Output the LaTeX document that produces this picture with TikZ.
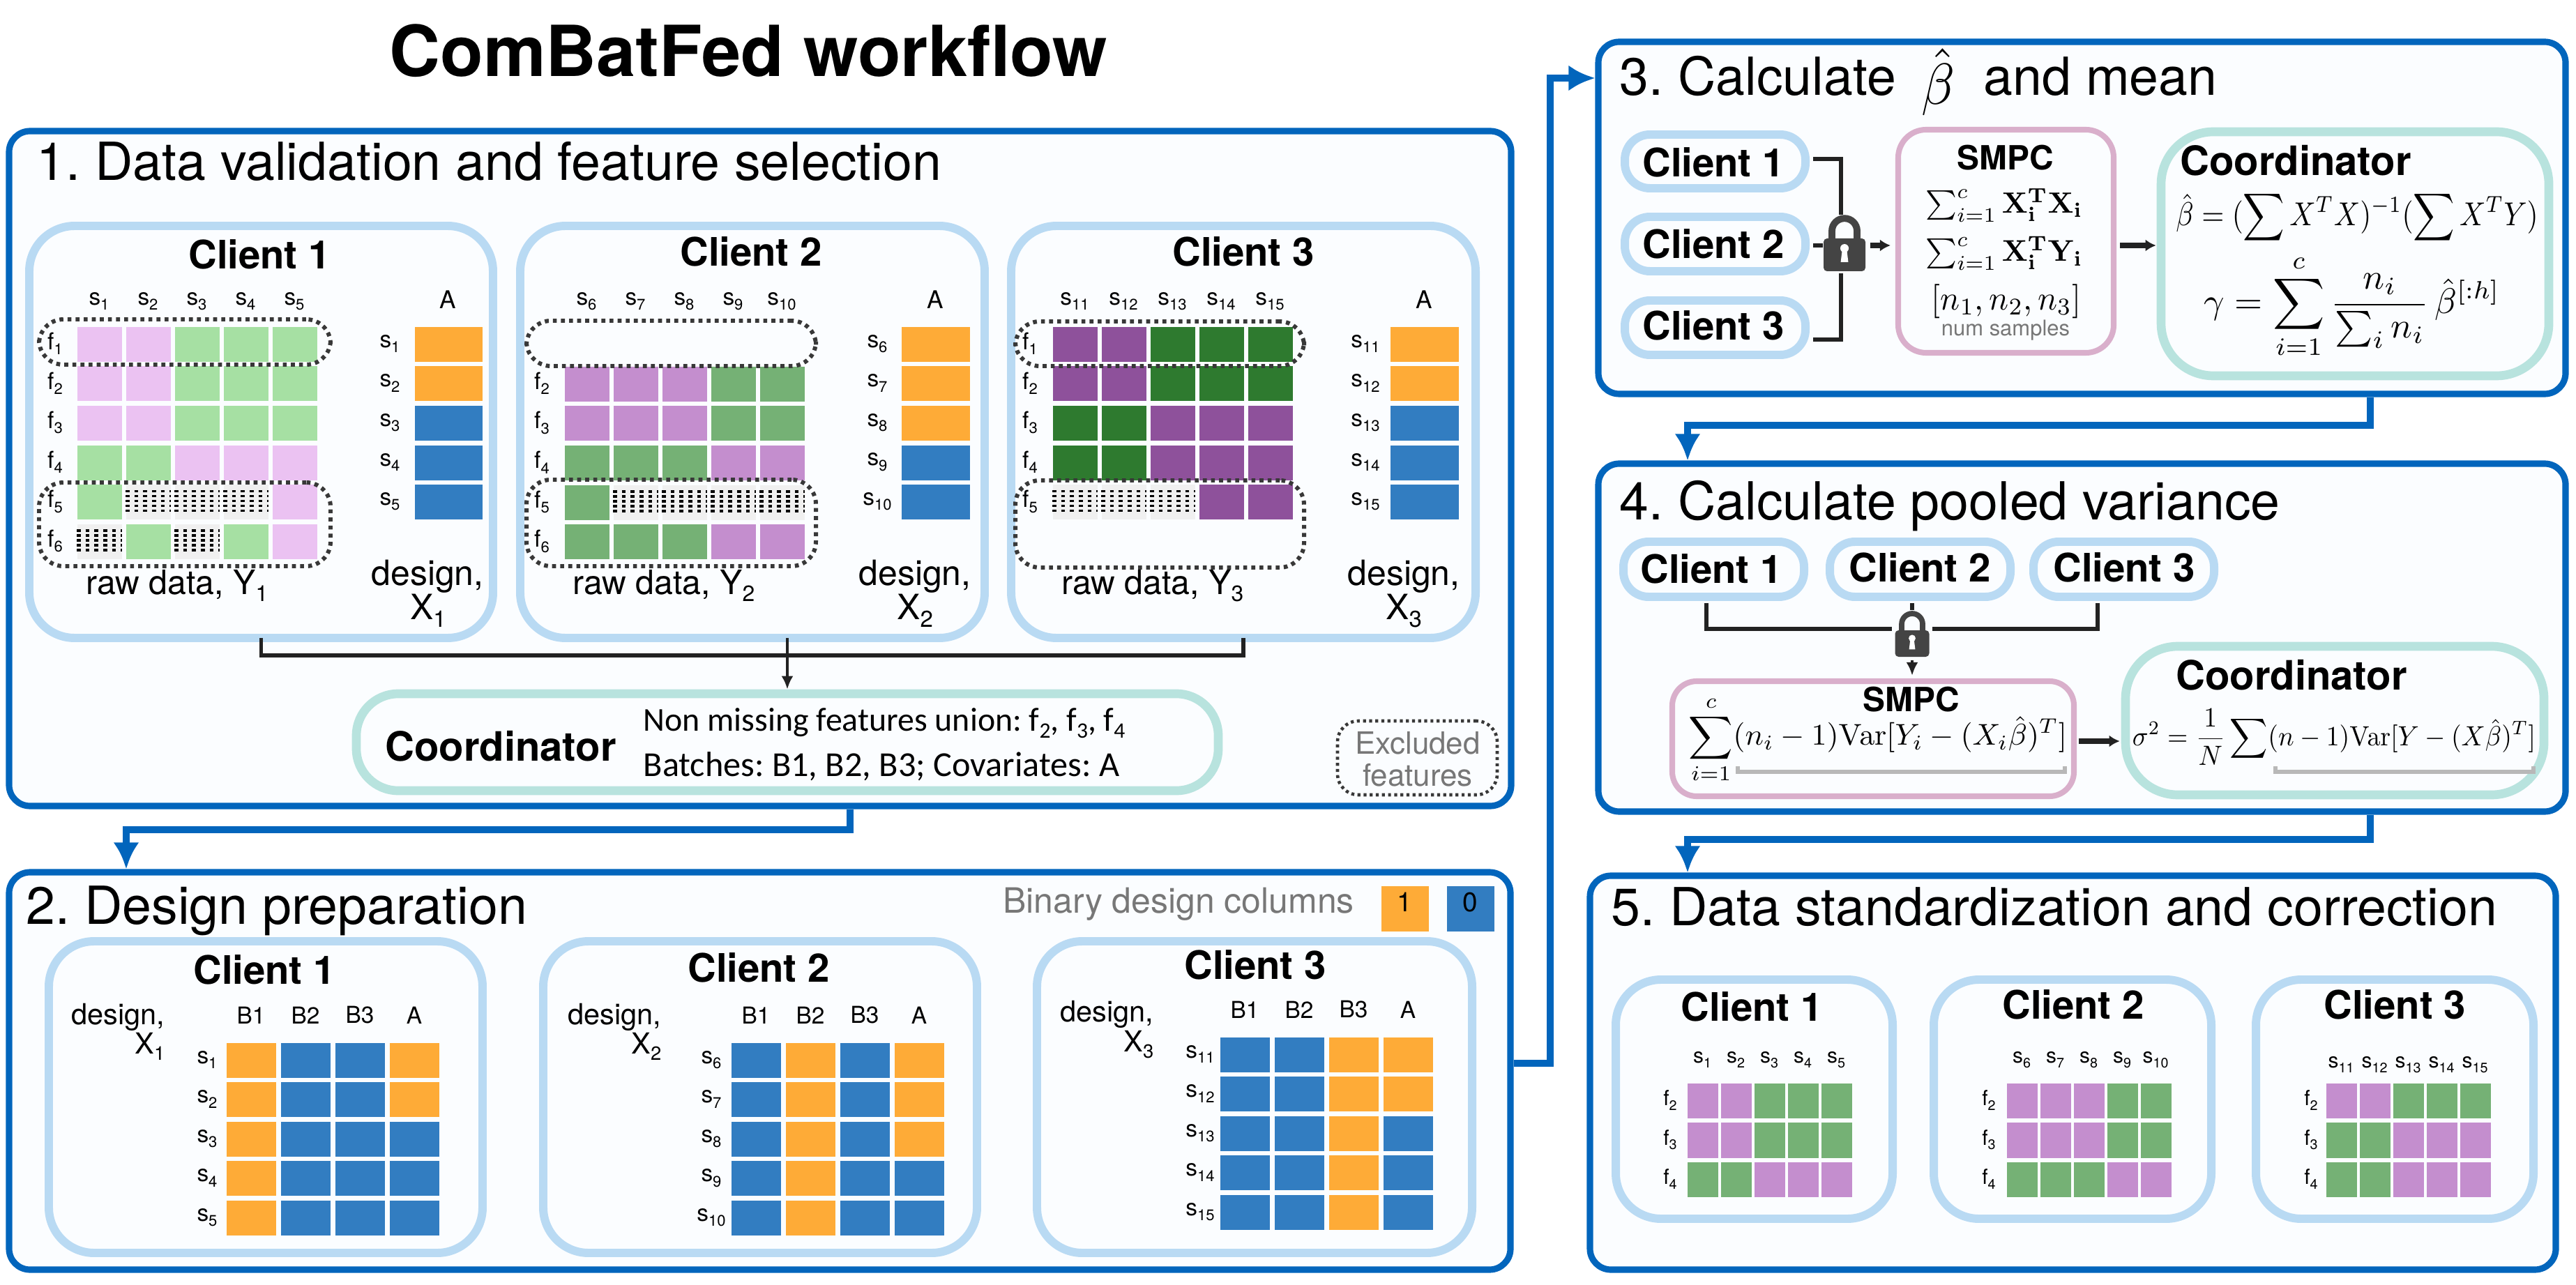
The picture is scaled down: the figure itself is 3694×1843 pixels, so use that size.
\documentclass[tikz,border=0pt]{standalone}
\usepackage[no-math]{fontspec}
\usepackage{amsmath}
\setmainfont{TeX Gyre Heros}
\newfontfamily\calfont{Carlito}
\usetikzlibrary{arrows.meta,fit}
\frenchspacing

\definecolor{flowblue}{HTML}{0265BC}
\definecolor{clientblue}{HTML}{B9DAF3}
\definecolor{coordgreen}{HTML}{B8E3DE}
\definecolor{smpcpink}{HTML}{D9AFCB}
\definecolor{paper}{HTML}{FBFDFF}
\definecolor{ink}{HTML}{222222}
\definecolor{greytext}{HTML}{777777}
\definecolor{lockgrey}{HTML}{444444}
\definecolor{lp}{HTML}{EBC2F2}
\definecolor{lg}{HTML}{A6E0A3}
\definecolor{mp}{HTML}{C48ECE}
\definecolor{mg}{HTML}{75B175}
\definecolor{dp}{HTML}{8E519B}
\definecolor{dg}{HTML}{2E7A2F}
\definecolor{og}{HTML}{FEAB37}
\definecolor{bl}{HTML}{327DC1}
\definecolor{nn}{HTML}{F0F0F0}

\newcommand{\fs}[1]{\fontsize{#1}{#1}\selectfont}
\newcommand{\low}[1]{\raisebox{-0.22em}{\scalebox{0.66}{#1}}}
\newcommand{\mfit}[3]{\resizebox*{#1}{#2}{$\displaystyle #3$}}
\newcommand{\cellgrid}[8]{%
	\foreach \row [count=\r] in {#8} {
		\foreach \col [count=\c] in \row {
			\node[cell,fill=\col,minimum width=#6*0.01cm,minimum height=#7*0.01cm] (#1-\r-\c) at ({#2+(\c-1)*#4},{#3+(\r-1)*#5}) {};
		}
	}
}
\newcommand{\toplabels}[7]{%
	\foreach \i [count=\n] in {#6,...,#7} {
		\node[tick] (#1\n) at ({#2+(\n-1)*#3},#4) {#5\low{\i}};
	}
}
\newcommand{\sidelabels}[7]{%
	\foreach \i [count=\n] in {#6,...,#7} {
		\node[tick] (#1\n) at (#2,{#3+(\n-1)*#4}) {#5\low{\i}};
	}
}
\newcommand{\nodots}[1]{%
	\foreach \cellname in {#1} {
		\foreach \k in {10,17,24,31,38} {
			\draw[dotrow] ([yshift=-\k*0.01cm]\cellname.north west) -- ([yshift=-\k*0.01cm]\cellname.north east);
		}
	}
}
\newcommand{\padlock}[7]{%
	\node[lockbody,fit={({#2-#4/2},#3) ({#2+#4/2},{#3+#5})}] (#1) {};
	\draw[draw=lockgrey,line width=#7] ({#2-#6},#3) -- ({#2-#6},{#3-#6*0.6}) arc[start angle=180,end angle=0,radius=#6*0.01cm] -- ({#2+#6},#3);
	\fill[white] (#2,{#3+#5*0.3}) circle[radius=#4*0.001cm];
	\fill[white] ({#2-#4*0.05},{#3+#5*0.3}) -- ({#2+#4*0.05},{#3+#5*0.3}) -- ({#2+#4*0.09},{#3+#5*0.72}) -- ({#2-#4*0.09},{#3+#5*0.72}) -- cycle;
}

\tikzset{
	panelbox/.style={draw=flowblue,line width=2.6pt,fill=paper,rounded corners=.3cm,inner sep=0pt},
	clientbox/.style={draw=clientblue,line width=3.4pt,fill=paper,rounded corners=.65cm,inner sep=0pt},
	pillbox/.style={draw=clientblue,line width=3.4pt,fill=paper,rounded corners=.36cm,inner sep=0pt},
	smpcbox/.style={draw=smpcpink,line width=2.3pt,fill=paper,rounded corners=.4cm,inner sep=0pt},
	coordbox/.style={draw=coordgreen,line width=3.6pt,fill=paper,rounded corners=.7cm,inner sep=0pt},
	exclbox/.style={draw=ink!90,line width=1.7pt,dash pattern=on 1.6pt off 1.7pt,rounded corners=.35cm,inner sep=0pt},
	lockbody/.style={fill=lockgrey,rounded corners=.05cm,inner sep=0pt},
	cell/.style={anchor=north west,inner sep=0pt},
	dotrow/.style={draw=black,line width=1pt,dash pattern=on 1.6pt off 2pt},
	tick/.style={inner sep=0pt,font=\fs{9.5}},
	paneltitle/.style={anchor=base west,inner sep=0pt,font=\fs{21.4}},
	clientname/.style={inner sep=0pt,font=\fs{16}\bfseries},
	coordname/.style={inner sep=0pt,font=\fs{16.5}\bfseries},
	smpcname/.style={inner sep=0pt,font=\fs{13.6}\bfseries},
	rawname/.style={inner sep=0pt,font=\fs{13.7}},
	designname/.style={inner sep=0pt,font=\fs{14.2}},
	smalldesign/.style={inner sep=0pt,font=\fs{11.8},anchor=east},
	eqn/.style={inner sep=0pt},
	flow/.style={draw=flowblue,line width=2.8pt,-{Latex[length=.38cm,width=.37cm]}},
	link/.style={draw=ink,line width=1.6pt},
	thinarrow/.style={draw=ink,line width=1.2pt,-{Latex[length=.19cm,width=.17cm]}},
	fatarrow/.style={draw=ink,line width=2.2pt,-{Latex[length=.15cm,width=.17cm]}},
	bracket/.style={draw=black!28,line width=1.5pt},
}

\begin{document}
\begin{tikzpicture}[x=0.01cm,y=-0.01cm]
	\useasboundingbox (0,0) rectangle (3694,1843);

	\node[anchor=base west,inner sep=0pt,font=\fs{28.7}\bfseries] (title) at (558,110) {ComBatFed workflow};

	\node[panelbox,fit={(13,188) (2167,1156)}] (pone) {};
	\node[panelbox,fit={(13,1251) (2166,1821)}] (ptwo) {};
	\node[panelbox,fit={(2292,60) (3679,565)}] (pthree) {};
	\node[panelbox,fit={(2292,665) (3679,1164)}] (pfour) {};
	\node[panelbox,fit={(2280,1256) (3665,1821)}] (pfive) {};

	\node[paneltitle] (tone) at (52,259) {1. Data validation and feature selection};
	\node[paneltitle] (ttwo) at (37,1325) {2. Design preparation};
	\node[paneltitle] (tthree) at (2322,137) {3. Calculate};
	\node[eqn] (tbeta) at (2779,118) {\mfit{.48cm}{.96cm}{\hat\beta}};
	\node[paneltitle] (tmean) at (2844,137) {and mean};
	\node[paneltitle] (tfour) at (2322,745) {4. Calculate pooled variance};
	\node[paneltitle] (tfive) at (2310,1327) {5. Data standardization and correction};

	\coordinate (ka) at (1219,1190);
	\coordinate (kb) at (181,1190);
	\draw[flow] (pone.south -| ka) -- (ka) -- (kb) -- (ptwo.north -| kb);
	\coordinate (kc) at (2223,1525);
	\coordinate (kd) at (2223,112);
	\draw[flow] (ptwo.east |- kc) -- (kc) -- (kd) -- (pthree.west |- kd);
	\coordinate (ke) at (3399,610);
	\coordinate (kf) at (2420,610);
	\draw[flow] (pthree.south -| ke) -- (ke) -- (kf) -- (pfour.north -| kf);
	\coordinate (kg) at (3399,1204);
	\coordinate (kh) at (2420,1204);
	\draw[flow] (pfour.south -| kg) -- (kg) -- (kh) -- (pfive.north -| kh);

	\node[clientbox,fit={(42,324) (707,915)}] (ca) {};
	\node[clientbox,fit={(746,324) (1412,915)}] (cb) {};
	\node[clientbox,fit={(1450,324) (2116,915)}] (cc) {};
	\node[clientname] (nca) at (372,365) {Client 1};
	\node[clientname] (ncb) at (1077,361) {Client 2};
	\node[clientname] (ncc) at (1783,361) {Client 3};

	\cellgrid{ha}{110}{468}{70}{56.6}{64}{50}{{lp,lp,lg,lg,lg},{lp,lp,lg,lg,lg},{lp,lp,lg,lg,lg},{lg,lg,lp,lp,lp},{lg,nn,nn,nn,lp},{nn,lg,nn,lg,lp}}
	\cellgrid{hb}{809}{525}{70}{56.6}{64}{50}{{mp,mp,mp,mg,mg},{mp,mp,mp,mg,mg},{mg,mg,mg,mp,mp},{mg,nn,nn,nn,nn},{mg,mg,mg,mp,mp}}
	\cellgrid{hc}{1509}{468}{70}{56.6}{64}{50}{{dp,dp,dg,dg,dg},{dp,dp,dg,dg,dg},{dg,dg,dp,dp,dp},{dg,dg,dp,dp,dp},{nn,nn,nn,dp,dp}}
	\nodots{ha-5-2,ha-5-3,ha-5-4,ha-6-1,ha-6-3,hb-4-2,hb-4-3,hb-4-4,hb-4-5,hc-5-1,hc-5-2,hc-5-3}

	\toplabels{sa}{142}{70}{432}{s}{1}{5}
	\toplabels{sb}{841}{70}{432}{s}{6}{10}
	\toplabels{sc}{1541}{70}{432}{s}{11}{15}
	\sidelabels{fa}{79}{493}{56.6}{f}{1}{6}
	\sidelabels{fb}{777}{550}{56.6}{f}{2}{6}
	\sidelabels{fc}{1477}{493}{56.6}{f}{1}{5}

	\cellgrid{xa}{594}{468}{0}{56.6}{97}{50}{{og},{og},{bl},{bl},{bl}}
	\cellgrid{xb}{1292}{468}{0}{56.6}{98}{50}{{og},{og},{og},{bl},{bl}}
	\cellgrid{xc}{1993}{468}{0}{56.6}{98}{50}{{og},{og},{bl},{bl},{bl}}
	\sidelabels{da}{559}{493}{56.6}{s}{1}{5}
	\sidelabels{db}{1258}{493}{56.6}{s}{6}{10}
	\sidelabels{dc}{1958}{493}{56.6}{s}{11}{15}
	\node[tick,font=\fs{10}] (aa) at (642,430) {A};
	\node[tick,font=\fs{10}] (ab) at (1341,430) {A};
	\node[tick,font=\fs{10}] (ac) at (2042,430) {A};

	\node[exclbox,fit={(56,458) (474,523)}] (ea) {};
	\node[exclbox,fit={(56,692) (474,812)}] (eb) {};
	\node[exclbox,fit={(755,460) (1170,525)}] (ec) {};
	\node[exclbox,fit={(755,688) (1170,812)}] (ed) {};
	\node[exclbox,fit={(1456,461) (1870,525)}] (ee) {};
	\node[exclbox,fit={(1456,689) (1870,814)}] (ef) {};

	\node[rawname] (ya) at (254,840) {raw data, Y\low{1}};
	\node[rawname] (yb) at (952,840) {raw data, Y\low{2}};
	\node[rawname] (yc) at (1653,840) {raw data, Y\low{3}};
	\node[designname] (dsa) at (613,827) {design,};
	\node[designname] (dsb) at (1312,827) {design,};
	\node[designname] (dsc) at (2013,827) {design,};
	\node[designname] (dxa) at (614,876) {X\low{1}};
	\node[designname] (dxb) at (1312,876) {X\low{2}};
	\node[designname] (dxc) at (2013,876) {X\low{3}};

	\node[coordbox,rounded corners=.6cm,fit={(511,995) (1747,1134)}] (cooa) {};
	\node[coordname] (ncooa) at (718,1070) {Coordinator};
	\node[anchor=base west,inner sep=0pt,font=\calfont\fs{13.6}] (una) at (922,1048) {Non missing features union: f\low{2}, f\low{3}, f\low{4}};
	\node[anchor=base west,inner sep=0pt,font=\calfont\fs{14.3}] (unb) at (922,1113) {Batches: B1, B2, B3; Covariates: A};
	\coordinate (jn) at (1130,940);
	\draw[link] ([yshift=.06cm]ca.south) |- (jn) -| ([yshift=.06cm]cc.south);
	\draw[thinarrow] ([yshift=.06cm]cb.south -| cooa.north) -- (cooa.north);

	\node[exclbox,line width=1.3pt,dash pattern=on 1.2pt off 1.3pt,rounded corners=.3cm,fit={(1918,1034) (2147,1140)}] (exl) {};
	\node[inner sep=0pt,text=greytext,font=\fs{12.5}] (exa) at (2033,1066) {Excluded};
	\node[inner sep=0pt,text=greytext,font=\fs{12.5}] (exb) at (2033,1112) {features};

	\node[inner sep=0pt,text=greytext,font=\fs{14.2}] (bin) at (1690,1297) {Binary design columns};
	\node[cell,fill=og,minimum width=.68cm,minimum height=.65cm] (one) at (1980,1270) {};
	\node[cell,fill=bl,minimum width=.68cm,minimum height=.65cm] (zero) at (2074,1270) {};
	\node[tick,font=\fs{11}] (onet) at (2014,1294) {1};
	\node[tick,font=\fs{11}] (zerot) at (2108,1294) {0};

	\node[clientbox,fit={(70,1350) (692,1797)}] (ga) {};
	\node[clientbox,fit={(779,1350) (1401,1797)}] (gb) {};
	\node[clientbox,fit={(1487,1350) (2111,1797)}] (gc) {};
	\node[clientname] (nga) at (379,1391) {Client 1};
	\node[clientname] (ngb) at (1088,1388) {Client 2};
	\node[clientname] (ngc) at (1800,1384) {Client 3};
	\node[smalldesign] (gda) at (237,1459) {design,};
	\node[smalldesign] (gxa) at (237,1501) {X\low{1}};
	\node[smalldesign] (gdb) at (949,1459) {design,};
	\node[smalldesign] (gxb) at (949,1501) {X\low{2}};
	\node[smalldesign] (gdc) at (1655,1455) {design,};
	\node[smalldesign] (gxc) at (1655,1498) {X\low{3}};

	\cellgrid{ua}{324}{1495}{78}{56.5}{71}{50}{{og,bl,bl,og},{og,bl,bl,og},{og,bl,bl,bl},{og,bl,bl,bl},{og,bl,bl,bl}}
	\cellgrid{ub}{1048}{1495}{78}{56.5}{71}{50}{{bl,og,bl,og},{bl,og,bl,og},{bl,og,bl,og},{bl,og,bl,bl},{bl,og,bl,bl}}
	\cellgrid{uc}{1749}{1487}{78}{56.5}{71}{50}{{bl,bl,og,og},{bl,bl,og,og},{bl,bl,og,bl},{bl,bl,og,bl},{bl,bl,og,bl}}
	\foreach \lab [count=\n] in {B1,B2,B3,A} {
		\node[tick] (hga\n) at ({360+(\n-1)*78},1456) {\lab};
		\node[tick] (hgb\n) at ({1084+(\n-1)*78},1456) {\lab};
		\node[tick] (hgc\n) at ({1785+(\n-1)*78},1448) {\lab};
	}
	\sidelabels{ra}{297}{1520}{56.5}{s}{1}{5}
	\sidelabels{rb}{1020}{1520}{56.5}{s}{6}{10}
	\sidelabels{rc}{1721}{1512}{56.5}{s}{11}{15}

	\node[pillbox,fit={(2330,193) (2589,270)}] (pa) {};
	\node[pillbox,fit={(2330,311) (2589,389)}] (pb) {};
	\node[pillbox,fit={(2330,431) (2589,509)}] (pc) {};
	\node[clientname] (npa) at (2457,233) {Client 1};
	\node[clientname] (npb) at (2457,350) {Client 2};
	\node[clientname] (npc) at (2457,467) {Client 3};
	\node[smpcbox,fit={(2722,186) (3031,506)}] (sma) {};
	\node[smpcname] (nsma) at (2876,226) {SMPC};
	\node[eqn] (eqa) at (2874,294) {\mfit{2.25cm}{.48cm}{\textstyle\sum_{i=1}^{c}\mathbf{X}_{\mathbf{i}}^{\mathbf{T}}\mathbf{X}_{\mathbf{i}}}};
	\node[eqn] (eqb) at (2874,363) {\mfit{2.25cm}{.49cm}{\textstyle\sum_{i=1}^{c}\mathbf{X}_{\mathbf{i}}^{\mathbf{T}}\mathbf{Y}_{\mathbf{i}}}};
	\node[eqn] (eqc) at (2877,432) {\mfit{2.14cm}{.49cm}{[n_1,n_2,n_3]}};
	\node[inner sep=0pt,text=greytext,font=\fs{8.8}] (nums) at (2876,474) {num samples};
	\node[coordbox,rounded corners=.75cm,fit={(3099,189) (3655,539)}] (coob) {};
	\node[coordname] (ncoob) at (3292,230) {Coordinator};
	\node[eqn] (eqd) at (3380,312) {\mfit{5.19cm}{.76cm}{\hat\beta=(\sum X^TX)^{-1}(\sum X^TY)}};
	\node[eqn] (eqe) at (3373,440) {\mfit{4.24cm}{1.5cm}{\gamma=\sum_{i=1}^{c}\frac{n_i}{\sum_i n_i}\,\hat\beta^{[:h]}}};
	\padlock{locka}{2645}{342}{60}{47}{18}{2.8pt}
	\coordinate (lu) at (2640,228);
	\coordinate (lv) at (2640,308);
	\coordinate (lw) at (2640,487);
	\coordinate (lx) at (2640,392);
	\coordinate (lm) at (2640,352);
	\draw[link] ([xshift=.05cm]pa.east |- lu) -- (lu) -- (lv);
	\draw[link] ([xshift=.05cm]pc.east |- lw) -- (lw) -- (lx);
	\draw[link] ([xshift=.05cm]pb.east |- lm) -- (locka.west |- lm);
	\draw[fatarrow] ([xshift=.06cm]locka.east |- lm) -- ([xshift=-.07cm]sma.west |- lm);
	\draw[fatarrow] ([xshift=.05cm]sma.east |- lm) -- ([xshift=-.01cm]coob.west |- lm);

	\node[pillbox,fit={(2328,777) (2587,856)}] (qa) {};
	\node[pillbox,fit={(2624,777) (2883,856)}] (qb) {};
	\node[pillbox,fit={(2916,777) (3175,856)}] (qc) {};
	\node[clientname] (nqa) at (2454,816) {Client 1};
	\node[clientname] (nqb) at (2753,814) {Client 2};
	\node[clientname] (nqc) at (3046,814) {Client 3};
	\node[smpcbox,rounded corners=.35cm,fit={(2398,977) (2974,1142)}] (smb) {};
	\node[smpcname] (nsmb) at (2741,1003) {SMPC};
	\node[eqn] (eqf) at (2693,1061) {\mfit{5.42cm}{1.26cm}{\sum_{i=1}^{c}(n_i-1)\mathrm{Var}[Y_i-(X_i\hat\beta)^T]}};
	\draw[bracket] (2492,1099) -- (2492,1107) -- (2961,1107) -- (2961,1099);
	\node[coordbox,rounded corners=.75cm,fit={(3048,927) (3648,1140)}] (cooc) {};
	\node[coordname] (ncooc) at (3286,968) {Coordinator};
	\node[eqn] (eqg) at (3347,1057) {\mfit{5.78cm}{.8cm}{\sigma^2=\frac{1}{N}\sum(n-1)\mathrm{Var}[Y-(X\hat\beta)^T]}};
	\draw[bracket] (3263,1099) -- (3263,1107) -- (3633,1107) -- (3633,1099);
	\padlock{lockb}{2742}{904}{49}{38}{15}{2.2pt}
	\coordinate (mu) at (2447,902);
	\coordinate (mv) at (3008,902);
	\coordinate (mw) at (2742,875);
	\coordinate (mz) at (3000,1063);
	\draw[link] ([yshift=-.03cm]qa.south -| mu) -- (mu) -- ([xshift=-.04cm]lockb.west |- mu);
	\draw[link] ([yshift=-.03cm]qc.south -| mv) -- (mv) -- ([xshift=.04cm]lockb.east |- mv);
	\draw[link] ([yshift=-.03cm]qb.south -| mw) -- (mw);
	\draw[thinarrow] ([yshift=-.04cm]lockb.south) -- ([yshift=.04cm]smb.north -| lockb);
	\draw[fatarrow] ([xshift=.03cm]smb.east |- mz) -- ([xshift=-.02cm]cooc.west |- mz);

	\node[clientbox,fit={(2317,1405) (2714,1748)}] (va) {};
	\node[clientbox,fit={(2773,1405) (3171,1748)}] (vb) {};
	\node[clientbox,fit={(3235,1405) (3633,1748)}] (vc) {};
	\node[clientname] (nva) at (2512,1444) {Client 1};
	\node[clientname] (nvb) at (2973,1441) {Client 2};
	\node[clientname] (nvc) at (3434,1441) {Client 3};
	\cellgrid{wa}{2419}{1553}{48}{56.5}{44}{50.5}{{mp,mp,mg,mg,mg},{mp,mp,mg,mg,mg},{mg,mg,mp,mp,mp}}
	\cellgrid{wb}{2877}{1553}{48}{56.5}{44}{50.5}{{mp,mp,mp,mg,mg},{mp,mp,mp,mg,mg},{mg,mg,mg,mp,mp}}
	\cellgrid{wc}{3335}{1553}{48}{56.5}{44}{50.5}{{mp,mp,mg,mg,mg},{mg,mg,mp,mp,mp},{mg,mg,mp,mp,mp}}
	\begin{scope}[tick/.append style={font=\fs{8.5}}]
		\toplabels{ta}{2441}{48}{1520}{s}{1}{5}
		\toplabels{tb}{2899}{48}{1520}{s}{6}{10}
		\toplabels{tc}{3357}{48}{1527}{s}{11}{15}
		\sidelabels{za}{2395}{1578}{56.5}{f}{2}{4}
		\sidelabels{zb}{2852}{1578}{56.5}{f}{2}{4}
		\sidelabels{zc}{3314}{1578}{56.5}{f}{2}{4}
	\end{scope}
\end{tikzpicture}
\end{document}
